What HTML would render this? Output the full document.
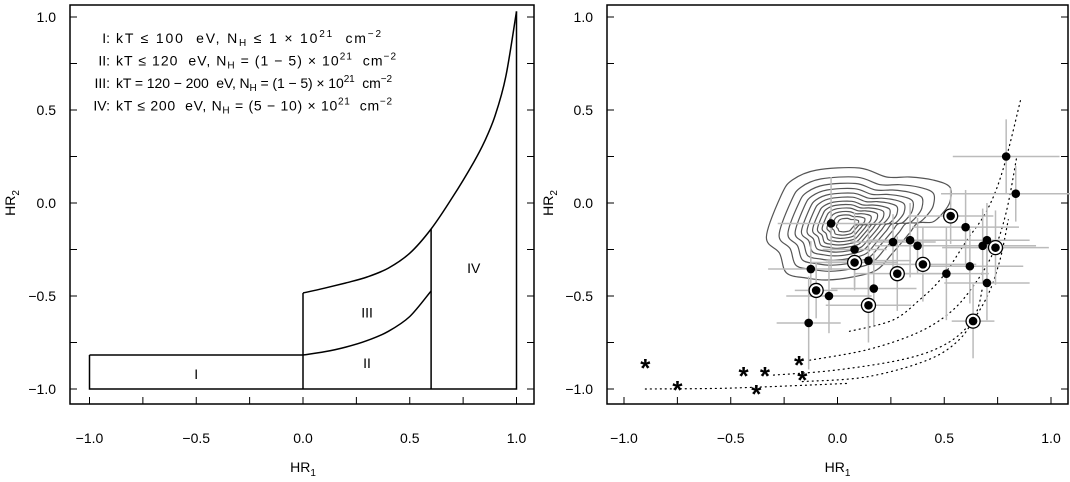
<!DOCTYPE html>
<html><head><meta charset="utf-8"><style>
html,body{margin:0;padding:0;background:#fff;}
svg{display:block;font-family:"Liberation Sans",Arial,sans-serif;}
text{white-space:pre;}
</style></head><body>
<svg id="fig" width="1070" height="482" viewBox="0 0 1070 482" xmlns="http://www.w3.org/2000/svg">
<g id="left"></g>
<g id="right"></g>
</svg>
<script>
// ----- data -----
const tickVals = [-1.0, -0.5, 0.0, 0.5, 1.0];
const tickLabels = ["\u22121.0", "\u22120.5", "0.0", "0.5", "1.0"];
const minorTicks = [-1, -0.75, -0.5, -0.25, 0, 0.25, 0.5, 0.75, 1];
const upperCurveX = [0, 0.1, 0.2, 0.3, 0.4, 0.5, 0.6, 0.7, 0.8, 0.85, 0.9, 0.95, 1.0];
const upperCurveY = [-0.484, -0.458, -0.43, -0.398, -0.35, -0.27, -0.14, 0.03, 0.22, 0.33, 0.47, 0.68, 1.03];
const lowerCurveX = [0, 0.1, 0.2, 0.3, 0.4, 0.5, 0.6];
const lowerCurveY = [-0.817, -0.80, -0.775, -0.74, -0.69, -0.61, -0.473];
const regionLabels = ["I", "II", "III", "IV"];
const regionLabelX = [-0.5, 0.3, 0.3, 0.8];
const regionLabelY = [-0.92, -0.86, -0.59, -0.35];
const ptX = [0.79,0.835,0.53,0.60,-0.03,0.26,0.34,0.375,0.74,0.70,0.68,0.08,0.08,0.145,0.40,0.62,-0.125,0.28,0.51,0.70,0.17,-0.10,-0.04,0.145,-0.135,0.635];
const ptY = [0.25,0.05,-0.07,-0.13,-0.11,-0.21,-0.20,-0.23,-0.24,-0.20,-0.23,-0.25,-0.32,-0.31,-0.33,-0.34,-0.355,-0.38,-0.38,-0.43,-0.46,-0.47,-0.50,-0.55,-0.645,-0.635];
const ptCircled = [0,0,1,0,0,0,0,0,1,0,0,0,1,0,1,0,0,1,0,0,0,1,0,1,0,1];
const ptXerr = [0.25,0.35,0.2,0.25,0.25,0.2,0.2,0.2,0.25,0.2,0.25,0.15,0.2,0.2,0.25,0.25,0.2,0.2,0.2,0.2,0.2,0.1,0.2,0.2,0.15,0.1];
const ptYerr = [0.2,0.15,0.15,0.2,0.25,0.15,0.2,0.15,0.2,0.2,0.2,0.2,0.15,0.2,0.2,0.2,0.15,0.2,0.25,0.2,0.2,0.15,0.2,0.2,0.25,0.2];
const starX = [-0.90,-0.75,-0.44,-0.34,-0.38,-0.18,-0.165];
const starY = [-0.87,-0.99,-0.915,-0.915,-1.01,-0.855,-0.935];
const track1X = [0.056,0.258,0.385,0.49,0.606,0.70,0.775,0.86];
const track1Y = [-0.69,-0.63,-0.52,-0.40,-0.20,-0.04,0.18,0.565];
const track2X = [-0.13,0.136,0.37,0.526,0.634,0.728,0.79,0.84];
const track2Y = [-0.845,-0.79,-0.70,-0.59,-0.45,-0.27,-0.05,0.25];
const track3X = [-0.3,-0.02,0.29,0.48,0.605,0.70,0.76,0.80];
const track3Y = [-0.925,-0.90,-0.845,-0.775,-0.67,-0.505,-0.31,-0.09];
const track4X = [-0.165,0.136,0.42,0.57,0.65,0.68];
const track4Y = [-0.96,-0.935,-0.845,-0.735,-0.59,-0.45];
const track5X = [-0.9,-0.5,0.05];
const track5Y = [-1.0,-0.995,-0.97];
const contourX = [-0.333,-0.263,-0.211,-0.099,0.103,0.23,0.338,0.446,0.526,0.526,0.493,0.446,0.376,0.338,0.258,0.183,0.07,-0.052,-0.146,-0.239,-0.272];
const contourY = [-0.183,0.043,0.124,0.177,0.188,0.14,0.14,0.124,0.086,0.005,-0.054,-0.102,-0.108,-0.161,-0.269,-0.36,-0.398,-0.414,-0.403,-0.376,-0.269];
const contourLevels = [1,0.84,0.73,0.64,0.56,0.49,0.42,0.36,0.30,0.24,0.18,0.12];
const contourCenterX = 0.04, contourCenterY = -0.12;

const NS = "http://www.w3.org/2000/svg";
function mk(parent, tag, attrs, text){
  const e = document.createElementNS(NS, tag);
  for (const k in attrs) e.setAttribute(k, attrs[k]);
  if (text !== undefined) e.textContent = text;
  parent.appendChild(e);
  return e;
}
function axes(x0){
  const sx = v => x0 + (v + 1) * 213.5;
  const sy = v => 203 - v * 186;
  return {sx, sy};
}
function spline(pts, closed){
  const n = pts.length; let d = "M" + pts[0][0].toFixed(1) + "," + pts[0][1].toFixed(1);
  const get = i => closed ? pts[(i + n) % n] : pts[Math.max(0, Math.min(n - 1, i))];
  const last = closed ? n : n - 1;
  for (let i = 0; i < last; i++){
    const p0 = get(i-1), p1 = get(i), p2 = get(i+1), p3 = get(i+2);
    const c1 = [p1[0] + (p2[0]-p0[0])/6, p1[1] + (p2[1]-p0[1])/6];
    const c2 = [p2[0] - (p3[0]-p1[0])/6, p2[1] - (p3[1]-p1[1])/6];
    d += " C" + c1.map(v=>v.toFixed(1)).join(",") + " " + c2.map(v=>v.toFixed(1)).join(",") + " " + p2.map(v=>v.toFixed(1)).join(",");
  }
  return d + (closed ? "Z" : "");
}
function frame(g, A, bx0, bx1, ylabX, prefix){
  const box = mk(g, "rect", {x:bx0, y:5, width:bx1-bx0, height:399, fill:"none", stroke:"#000", "stroke-width":1.5});
  
  
  const xt = mk(g, "g", {});
  
  
  const yt = mk(g, "g", {});
  
  
  minorTicks.forEach(v => {
    mk(xt, "line", {x1:A.sx(v), x2:A.sx(v), y1:404, y2:397, stroke:"#000", "stroke-width":1});
    mk(yt, "line", {x1:bx0, x2:bx0+7, y1:A.sy(v), y2:A.sy(v), stroke:"#000", "stroke-width":1});
    mk(yt, "line", {x1:bx1, x2:bx1-7, y1:A.sy(v), y2:A.sy(v), stroke:"#000", "stroke-width":1});
  });
  tickVals.forEach((v, i) => {
    const t1 = mk(xt, "text", {x:A.sx(v), y:443, "font-size":14, "text-anchor":"middle"}, tickLabels[i]);
    
    
    const t2 = mk(yt, "text", {x:bx0-14, y:A.sy(v)+5, "font-size":14, "text-anchor":"end"}, tickLabels[i]);
    
    
  });
  const xl = mk(g, "text", {x:A.sx(0), y:472, "font-size":14, "text-anchor":"middle"});
  xl.innerHTML = 'HR<tspan font-size="10" dy="4">1</tspan>';
  
  
  const yl = mk(g, "text", {x:0, y:0, "font-size":14, "text-anchor":"middle", transform:"translate("+ylabX+",203) rotate(-90)"});
  yl.innerHTML = 'HR<tspan font-size="10" dy="4">2</tspan>';
  
  
}

// ----- left panel -----
const L = document.getElementById("left");
const AL = axes(89.5);
frame(L, AL, 70, 534, 15, 'left');
const reg = mk(L, "g", {fill:"none", stroke:"#000", "stroke-width":1.5});


mk(reg, "polyline", {points:[[-1,lowerCurveY[0]],[-1,-1],[1,-1],[1,upperCurveY[upperCurveY.length-1]]].map(p=>AL.sx(p[0])+","+AL.sy(p[1])).join(" ")});
mk(reg, "line", {x1:AL.sx(-1), x2:AL.sx(0), y1:AL.sy(lowerCurveY[0]), y2:AL.sy(lowerCurveY[0])});
mk(reg, "line", {x1:AL.sx(0), x2:AL.sx(0), y1:AL.sy(-1), y2:AL.sy(upperCurveY[0])});
mk(reg, "line", {x1:AL.sx(0.6), x2:AL.sx(0.6), y1:AL.sy(-1), y2:AL.sy(upperCurveY[6])});
const uc = mk(reg, "path", {d: spline(upperCurveX.map((x,i)=>[AL.sx(x), AL.sy(upperCurveY[i])]), false)});


const lc = mk(reg, "path", {d: spline(lowerCurveX.map((x,i)=>[AL.sx(x), AL.sy(lowerCurveY[i])]), false)});


regionLabels.forEach((t,i) => {
  const e = mk(L, "text", {x:AL.sx(regionLabelX[i]), y:AL.sy(regionLabelY[i])+5, "font-size":14, "text-anchor":"middle"}, t);
  
  
});
const leg = mk(L, "g", {"font-size":14});


const legRows = [
  ['I:', 'kT ≤ 100  eV, N<tspan font-size="10" dy="3">H</tspan><tspan dy="-3"> ≤ 1 × 10</tspan><tspan font-size="10" dy="-6">21</tspan><tspan dy="6">  cm</tspan><tspan font-size="10" dy="-6">−2</tspan>'],
  ['II:', 'kT ≤ 120  eV, N<tspan font-size="10" dy="3">H</tspan><tspan dy="-3"> = (1 − 5) × 10</tspan><tspan font-size="10" dy="-6">21</tspan><tspan dy="6">  cm</tspan><tspan font-size="10" dy="-6">−2</tspan>'],
  ['III:', 'kT = 120 − 200  eV, N<tspan font-size="10" dy="3">H</tspan><tspan dy="-3"> = (1 − 5) × 10</tspan><tspan font-size="10" dy="-6">21</tspan><tspan dy="6">  cm</tspan><tspan font-size="10" dy="-6">−2</tspan>'],
  ['IV:', 'kT ≤ 200  eV, N<tspan font-size="10" dy="3">H</tspan><tspan dy="-3"> = (5 − 10) × 10</tspan><tspan font-size="10" dy="-6">21</tspan><tspan dy="6">  cm</tspan><tspan font-size="10" dy="-6">−2</tspan>']
];
const legWidths = [265, 280, 276, 276];
legRows.forEach((r,i) => {
  const y = 43 + i*22.5;
  const a = mk(leg, "text", {x:110, y:y, "text-anchor":"end"}, r[0]);
  
  
  const b = mk(leg, "text", {x:116, y:y, textLength:legWidths[i], lengthAdjust:"spacing"});
  b.innerHTML = r[1];
  
  
});

// ----- right panel -----
const R = document.getElementById("right");
const AR = axes(624);
frame(R, AR, 607, 1068, 553, 'right');
const cg = mk(R, "g", {fill:"none", stroke:"#555", "stroke-width":1.2});


contourLevels.forEach(s => {
  const pts = contourX.map((x,i)=>[AR.sx(contourCenterX + (x-contourCenterX)*s), AR.sy(contourCenterY + (contourY[i]-contourCenterY)*s)]);
  const p = mk(cg, "path", {d: spline(pts, true)});
  
  
});
const tg = mk(R, "g", {fill:"none", stroke:"#000", "stroke-width":1.2, "stroke-dasharray":"1 4", "stroke-linecap":"round"});


[[track1X,track1Y],[track2X,track2Y],[track3X,track3Y],[track4X,track4Y],[track5X,track5Y]].forEach(t => {
  const p = mk(tg, "path", {d: spline(t[0].map((x,i)=>[AR.sx(x), AR.sy(t[1][i])]), false)});
  
  
});
const eg = mk(R, "g", {stroke:"#bbb", "stroke-width":1.5});


ptX.forEach((x,i) => {
  mk(eg, "line", {x1:AR.sx(x-ptXerr[i]), x2:AR.sx(Math.min(x+ptXerr[i],1.1)), y1:AR.sy(ptY[i]), y2:AR.sy(ptY[i])});
  mk(eg, "line", {x1:AR.sx(x), x2:AR.sx(x), y1:AR.sy(ptY[i]-ptYerr[i]), y2:AR.sy(ptY[i]+ptYerr[i])});
});
const pg = mk(R, "g", {});


ptX.forEach((x,i) => {
  if (ptCircled[i]) {
    const c = mk(pg, "circle", {cx:AR.sx(x), cy:AR.sy(ptY[i]), r:7, fill:"#fff", stroke:"#000", "stroke-width":1.3});
    
    
  }
  const d = mk(pg, "circle", {cx:AR.sx(x), cy:AR.sy(ptY[i]), r:4.3, fill:"#000"});
  
  
});
starX.forEach((x,i) => {
  const s = mk(R, "text", {x:AR.sx(x), y:AR.sy(starY[i])+12, "font-size":26, "text-anchor":"middle", "font-weight":"bold"}, "*");
  
  
});
</script>
</body></html>
